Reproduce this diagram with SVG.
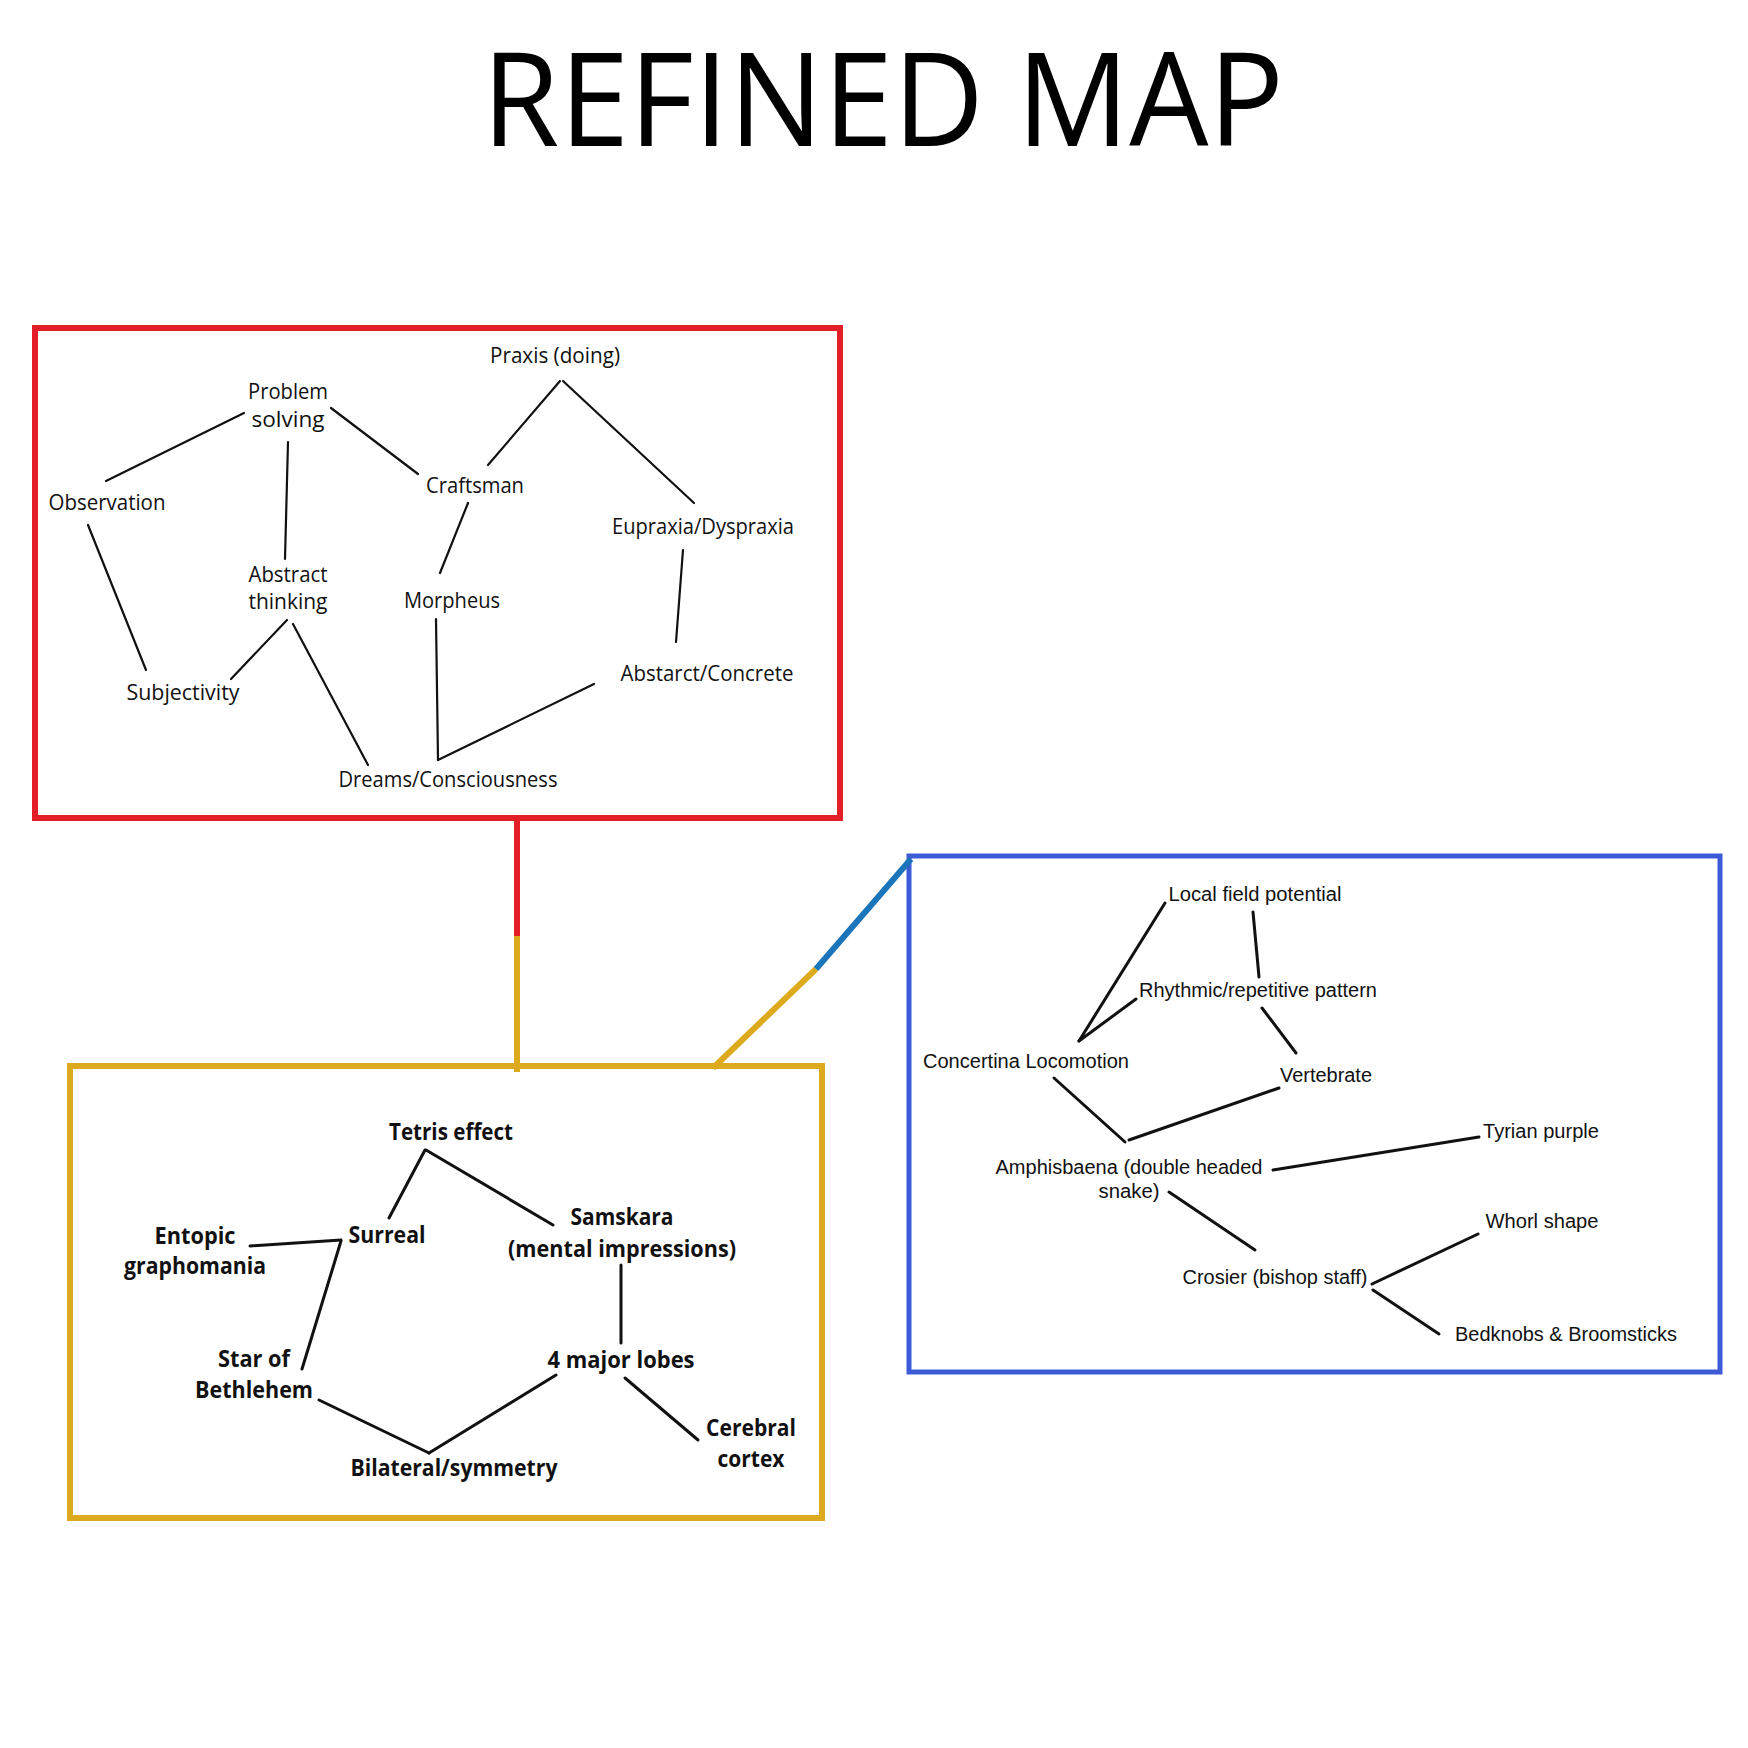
<svg xmlns="http://www.w3.org/2000/svg" width="1748" height="1748" viewBox="0 0 1748 1748">
<style>
.title{font-family:"Open Sans","Liberation Sans",sans-serif;font-size:130px;fill:#000}
.r{font-family:"Open Sans","Liberation Sans",sans-serif;font-size:22px;fill:#111;text-anchor:middle}
.b{font-family:"Liberation Sans",Arial,sans-serif;font-size:20px;fill:#111;text-anchor:middle}
.y{font-family:"Open Sans","Liberation Sans",sans-serif;font-size:23px;font-weight:bold;fill:#111;text-anchor:middle}
.ln{stroke:#111;stroke-width:2.2;fill:none;stroke-linecap:round}
.lnb{stroke:#111;stroke-width:3;fill:none;stroke-linecap:round}
.lny{stroke:#111;stroke-width:3;fill:none;stroke-linecap:round}
</style>
<rect width="1748" height="1748" fill="#fff"/>
<text class="title" x="482" y="146" textLength="802" lengthAdjust="spacingAndGlyphs">REFINED MAP</text>

<!-- boxes -->
<rect id="red-box" x="35" y="328" width="805" height="490" fill="none" stroke="#e41e26" stroke-width="6"/>
<rect id="yellow-box" x="70" y="1066" width="752" height="452" fill="none" stroke="#dcaa1c" stroke-width="6"/>
<rect id="blue-box" x="909" y="856" width="811" height="516" fill="none" stroke="#3d5bd6" stroke-width="5"/>

<g id="connectors">
  <!-- box connectors -->
  <line x1="517" y1="818" x2="517" y2="936" stroke="#e41e26" stroke-width="6"/>
  <line x1="517" y1="936" x2="517" y2="1072" stroke="#dcaa1c" stroke-width="6"/>
  <line x1="713" y1="1068" x2="816" y2="969" stroke="#dcaa1c" stroke-width="6"/>
  <line x1="816" y1="969" x2="911" y2="859" stroke="#1b75bb" stroke-width="6"/>

  <!-- red box -->
  <line class="ln" x1="244" y1="413" x2="106" y2="481"/>
  <line class="ln" x1="331" y1="408" x2="418" y2="474"/>
  <line class="ln" x1="288" y1="442" x2="285" y2="559"/>
  <line class="ln" x1="560" y1="381" x2="488" y2="465"/>
  <line class="ln" x1="563" y1="381" x2="694" y2="503"/>
  <line class="ln" x1="468" y1="503" x2="440" y2="573"/>
  <line class="ln" x1="88" y1="525" x2="146" y2="670"/>
  <line class="ln" x1="683" y1="550" x2="676" y2="642"/>
  <line class="ln" x1="287" y1="620" x2="231" y2="679"/>
  <line class="ln" x1="293" y1="624" x2="368" y2="765"/>
  <line class="ln" x1="436" y1="619" x2="438" y2="760"/>
  <line class="ln" x1="594" y1="684" x2="438" y2="760"/>

  <!-- blue box -->
  <line class="lnb" x1="1165" y1="903" x2="1079" y2="1041"/>
  <line class="lnb" x1="1136" y1="999" x2="1079" y2="1041"/>
  <line class="lnb" x1="1253" y1="912" x2="1259" y2="977"/>
  <line class="lnb" x1="1262" y1="1008" x2="1296" y2="1053"/>
  <line class="lnb" x1="1054" y1="1078" x2="1125" y2="1142"/>
  <line class="lnb" x1="1279" y1="1088" x2="1129" y2="1140"/>
  <line class="lnb" x1="1273" y1="1170" x2="1479" y2="1137"/>
  <line class="lnb" x1="1169" y1="1192" x2="1255" y2="1250"/>
  <line class="lnb" x1="1372" y1="1284" x2="1478" y2="1234"/>
  <line class="lnb" x1="1373" y1="1290" x2="1439" y2="1334"/>

  <!-- yellow box -->
  <line class="lny" x1="425" y1="1150" x2="389" y2="1218"/>
  <line class="lny" x1="426" y1="1150" x2="553" y2="1225"/>
  <line class="lny" x1="250" y1="1246" x2="341" y2="1240"/>
  <line class="lny" x1="341" y1="1241" x2="302" y2="1369"/>
  <line class="lny" x1="621" y1="1265" x2="621" y2="1343"/>
  <line class="lny" x1="319" y1="1400" x2="429" y2="1453"/>
  <line class="lny" x1="556" y1="1375" x2="429" y2="1453"/>
  <line class="lny" x1="625" y1="1378" x2="698" y2="1440"/>
</g>

<!-- red box nodes -->
<g id="praxis"><text class="r" x="555" y="363" textLength="130" lengthAdjust="spacingAndGlyphs">Praxis (doing)</text></g>
<g id="problem-solving"><text class="r" x="288" y="399" textLength="80" lengthAdjust="spacingAndGlyphs">Problem</text><text class="r" x="288" y="427" textLength="73" lengthAdjust="spacingAndGlyphs">solving</text></g>
<g id="observation"><text class="r" x="107" y="510" textLength="117" lengthAdjust="spacingAndGlyphs">Observation</text></g>
<g id="craftsman"><text class="r" x="475" y="493" textLength="98" lengthAdjust="spacingAndGlyphs">Craftsman</text></g>
<g id="eupraxia"><text class="r" x="703" y="534" textLength="182" lengthAdjust="spacingAndGlyphs">Eupraxia/Dyspraxia</text></g>
<g id="abstract-thinking"><text class="r" x="288" y="582" textLength="79" lengthAdjust="spacingAndGlyphs">Abstract</text><text class="r" x="288" y="609" textLength="79" lengthAdjust="spacingAndGlyphs">thinking</text></g>
<g id="morpheus"><text class="r" x="452" y="608" textLength="96" lengthAdjust="spacingAndGlyphs">Morpheus</text></g>
<g id="subjectivity"><text class="r" x="183" y="700" textLength="113" lengthAdjust="spacingAndGlyphs">Subjectivity</text></g>
<g id="abstarct-concrete"><text class="r" x="707" y="681" textLength="173" lengthAdjust="spacingAndGlyphs">Abstarct/Concrete</text></g>
<g id="dreams"><text class="r" x="448" y="787" textLength="219" lengthAdjust="spacingAndGlyphs">Dreams/Consciousness</text></g>

<!-- blue box nodes -->
<g id="local-field"><text class="b" x="1255" y="901" textLength="173" lengthAdjust="spacingAndGlyphs">Local field  potential</text></g>
<g id="rhythmic"><text class="b" x="1258" y="997" textLength="238" lengthAdjust="spacingAndGlyphs">Rhythmic/repetitive pattern</text></g>
<g id="concertina"><text class="b" x="1026" y="1068" textLength="206" lengthAdjust="spacingAndGlyphs">Concertina Locomotion</text></g>
<g id="vertebrate"><text class="b" x="1326" y="1082" textLength="92" lengthAdjust="spacingAndGlyphs">Vertebrate</text></g>
<g id="tyrian"><text class="b" x="1541" y="1138" textLength="116" lengthAdjust="spacingAndGlyphs">Tyrian purple</text></g>
<g id="amphisbaena"><text class="b" x="1129" y="1174" textLength="267" lengthAdjust="spacingAndGlyphs">Amphisbaena (double headed</text><text class="b" x="1129" y="1198" textLength="61" lengthAdjust="spacingAndGlyphs">snake)</text></g>
<g id="whorl"><text class="b" x="1542" y="1228" textLength="113" lengthAdjust="spacingAndGlyphs">Whorl shape</text></g>
<g id="crosier"><text class="b" x="1275" y="1284" textLength="185" lengthAdjust="spacingAndGlyphs">Crosier (bishop staff)</text></g>
<g id="bedknobs"><text class="b" x="1566" y="1341" textLength="222" lengthAdjust="spacingAndGlyphs">Bedknobs &amp; Broomsticks</text></g>

<!-- yellow box nodes -->
<g id="tetris"><text class="y" x="451" y="1140" textLength="124" lengthAdjust="spacingAndGlyphs">Tetris effect</text></g>
<g id="surreal"><text class="y" x="387" y="1243" textLength="77" lengthAdjust="spacingAndGlyphs">Surreal</text></g>
<g id="entopic"><text class="y" x="195" y="1244" textLength="81" lengthAdjust="spacingAndGlyphs">Entopic</text><text class="y" x="195" y="1274" textLength="142" lengthAdjust="spacingAndGlyphs">graphomania</text></g>
<g id="samskara"><text class="y" x="622" y="1225" textLength="103" lengthAdjust="spacingAndGlyphs">Samskara</text><text class="y" x="622" y="1257" textLength="228" lengthAdjust="spacingAndGlyphs">(mental impressions)</text></g>
<g id="star"><text class="y" x="254" y="1367" textLength="72" lengthAdjust="spacingAndGlyphs">Star of</text><text class="y" x="254" y="1398" textLength="118" lengthAdjust="spacingAndGlyphs">Bethlehem</text></g>
<g id="lobes"><text class="y" x="621" y="1368" textLength="147" lengthAdjust="spacingAndGlyphs">4 major lobes</text></g>
<g id="cerebral"><text class="y" x="751" y="1436" textLength="90" lengthAdjust="spacingAndGlyphs">Cerebral</text><text class="y" x="751" y="1467" textLength="67" lengthAdjust="spacingAndGlyphs">cortex</text></g>
<g id="bilateral"><text class="y" x="454" y="1476" textLength="207" lengthAdjust="spacingAndGlyphs">Bilateral/symmetry</text></g>
</svg>
